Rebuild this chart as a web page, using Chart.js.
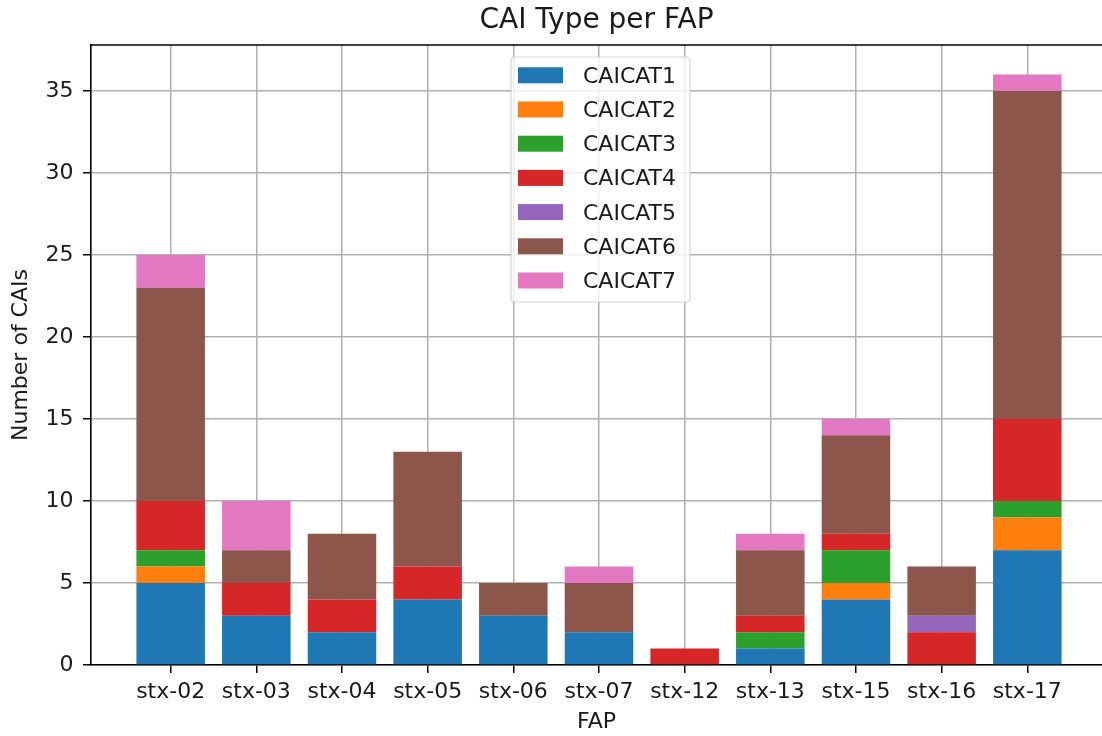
<!DOCTYPE html>
<html><head><meta charset="utf-8">
<script src="https://cdn.jsdelivr.net/npm/chart.js@4/dist/chart.umd.min.js"></script>
<style>html,body{margin:0;padding:0;background:#fff;overflow:hidden}#wrap{width:1102px;height:736px;position:relative}</style>
</head><body><div id="wrap"><canvas id="c" width="1102" height="736"></canvas></div>
<script>
const categories = ['stx-02','stx-03','stx-04','stx-05','stx-06','stx-07','stx-12','stx-13','stx-15','stx-16','stx-17'];
const seriesNames = ['CAICAT1','CAICAT2','CAICAT3','CAICAT4','CAICAT5','CAICAT6','CAICAT7'];
const caicat1 = [5,3,2,4,3,2,0,1,4,0,7];
const caicat2 = [1,0,0,0,0,0,0,0,1,0,2];
const caicat3 = [1,0,0,0,0,0,0,1,2,0,1];
const caicat4 = [3,2,2,2,0,0,1,1,1,2,5];
const caicat5 = [0,0,0,0,0,0,0,0,0,1,0];
const caicat6 = [13,2,4,7,2,3,0,4,6,3,20];
const caicat7 = [2,3,0,0,0,1,0,1,1,0,1];
const yTicks = [0,5,10,15,20,25,30,35];
const title = 'CAI Type per FAP';
const xTitle = 'FAP';
const yTitle = 'Number of CAIs';

const seriesValues = [caicat1,caicat2,caicat3,caicat4,caicat5,caicat6,caicat7];
const colors = ['#1f77b4','#ff7f0e','#2ca02c','#d62728','#9467bd','#8c564b','#e377c2'];
const FONT = "'DejaVu Sans', sans-serif";
const TXT = '#1a1a1a';

const datasets = seriesNames.map((name,k)=>({
  label: name,
  data: seriesValues[k].map((v,i)=>({x:i, y:v})),
  backgroundColor: colors[k],
  borderWidth: 0,
  barPercentage: 0.8,
  categoryPercentage: 1.0
}));

const spinePlugin = {
  id: 'spines',
  afterDraw(chart){
    const {ctx, chartArea:a} = chart;
    ctx.save();
    ctx.strokeStyle = '#000';
    ctx.lineWidth = 1.6;
    ctx.beginPath();
    ctx.moveTo(a.left - 0.8, a.top);
    ctx.lineTo(a.right + 10, a.top);
    ctx.stroke();
    ctx.restore();
  }
};

const legendPlugin = {
  id: 'mplLegend',
  afterDraw(chart){
    const ctx = chart.ctx;
    const ds = chart.data.datasets;
    const bx = 511, by = 57, bw = 179, bh = 245, r = 4;
    ctx.save();
    ctx.beginPath();
    ctx.moveTo(bx + r, by);
    ctx.lineTo(bx + bw - r, by);
    ctx.quadraticCurveTo(bx + bw, by, bx + bw, by + r);
    ctx.lineTo(bx + bw, by + bh - r);
    ctx.quadraticCurveTo(bx + bw, by + bh, bx + bw - r, by + bh);
    ctx.lineTo(bx + r, by + bh);
    ctx.quadraticCurveTo(bx, by + bh, bx, by + bh - r);
    ctx.lineTo(bx, by + r);
    ctx.quadraticCurveTo(bx, by, bx + r, by);
    ctx.closePath();
    ctx.fillStyle = 'rgba(255,255,255,0.8)';
    ctx.fill();
    ctx.strokeStyle = 'rgba(204,204,204,0.8)';
    ctx.lineWidth = 1.2;
    ctx.stroke();
    ctx.font = '22px ' + FONT;
    ctx.textBaseline = 'alphabetic';
    ctx.textAlign = 'left';
    ds.forEach((d,i)=>{
      const cy = 75.3 + i*34.2;
      ctx.fillStyle = d.backgroundColor;
      ctx.fillRect(518, cy - 8, 45, 16);
      ctx.fillStyle = TXT;
      ctx.fillText(d.label, 583, cy + 7.5);
    });
    ctx.restore();
  }
};

new Chart(document.getElementById('c'), {
  type: 'bar',
  data: { datasets },
  plugins: [spinePlugin, legendPlugin],
  options: {
    responsive: false,
    animation: false,
    devicePixelRatio: 1,
    layout: { padding: { left: 0, right: 0, top: 0, bottom: 0 } },
    plugins: {
      legend: { display: false },
      tooltip: { enabled: false },
      title: {
        display: true, text: title, color: TXT, fullSize: false,
        font: { family: FONT, size: 28, weight: 'normal', lineHeight: 1.2 },
        padding: { top: 3.5, bottom: 7.9 }
      }
    },
    scales: {
      x: {
        type: 'linear', stacked: true, min: -0.93, max: 10.872, z: 1, offset: false,
        afterBuildTicks: s => { s.ticks = categories.map((c,i)=>({value:i})); },
        afterFit: s => { s.height = 71; },
        ticks: { callback: v => categories[v], font: { family: FONT, size: 22 }, color: TXT, padding: 6, autoSkip: false, maxRotation: 0 },
        grid: { offset: false, color: '#b0b0b0', lineWidth: 1.5, tickColor: '#000', tickLength: 8, drawTicks: true },
        border: { color: '#000', width: 1.6 },
        title: { display: true, text: xTitle, color: TXT, font: { family: FONT, size: 22, lineHeight: 1.2 }, padding: { top: 0, bottom: 1 } }
      },
      y: {
        type: 'linear', stacked: true, min: 0, max: 37.8, z: 1,
        afterBuildTicks: s => { s.ticks = yTicks.map(v=>({value:v})); },
        afterFit: s => { s.width = 91; },
        ticks: { font: { family: FONT, size: 22 }, color: TXT, padding: 9.5 },
        grid: { color: '#b0b0b0', lineWidth: 1.5, tickColor: '#000', tickLength: 8, drawTicks: true },
        border: { color: '#000', width: 1.6 },
        title: { display: true, text: yTitle, color: TXT, font: { family: FONT, size: 22, lineHeight: 1.2 }, padding: { top: 7.8, bottom: 0 } }
      }
    }
  }
});
</script>
</body></html>
